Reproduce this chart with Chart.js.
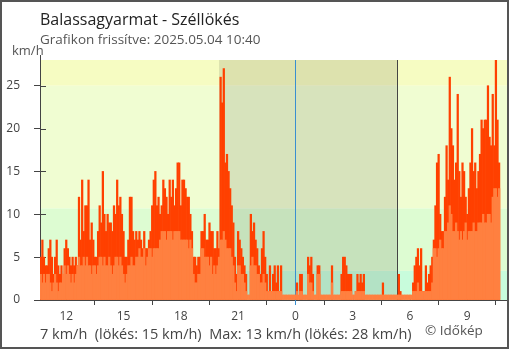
<!DOCTYPE html>
<html lang="hu">
<head>
<meta charset="UTF-8">
<title>Balassagyarmat - Széllökés</title>
<script src="https://cdn.jsdelivr.net/npm/chart.js"></script>
<style>
  body { margin: 0; background: #fff; font-family: 'Open Sans', sans-serif; }
  .wrap { position: relative; width: 510px; height: 350px; overflow: hidden; }
  .wrap canvas { position: absolute; left: 0; top: 0; }
  .frame { position: absolute; left: 0; top: 0; width: 505px; height: 345px; border: 2px solid #555; pointer-events: none; }
  .txt { position: absolute; line-height: 1; white-space: pre; }
  .title { left: 40px; top: 11px; font-size: 16px; color: #222; }
  .sub { left: 40px; top: 32.5px; font-size: 13.5px; color: #555; }
  .unit { left: 12px; top: 43.5px; font-size: 13px; color: #555; }
  .summary { left: 40px; top: 326.5px; font-size: 14.5px; color: #444; }
  .copy { left: 425px; top: 324px; font-size: 13.5px; color: #555; }
</style>
</head>
<body>
<div class="wrap">
  <canvas id="chart" width="510" height="350"></canvas>
  <div class="txt title">Balassagyarmat - Széllökés</div>
  <div class="txt sub">Grafikon frissítve: 2025.05.04 10:40</div>
  <div class="txt unit">km/h</div>
  <div class="txt summary">7 km/h  (lökés: 15 km/h)  Max: 13 km/h (lökés: 28 km/h)</div>
  <div class="txt copy">© Időkép</div>
  <div class="frame"></div>
</div>
<script>
// 5 perces mérések 10:40-től másnap 10:40-ig (órák éjfélhez képest)
const startHour = -(13 + 20 / 60);
const stepHour = 5 / 60;

// széllökés (km/h), soronként egy óra
const gust = [
  5, 7, 5, 4,
  4, 6, 7, 5, 3, 5, 7, 4, 3, 4, 3, 6,
  7, 6, 5, 4, 5, 4, 5, 4, 12, 7, 14, 8,
  11, 11, 14, 7, 9, 7, 5, 5, 8, 11, 9, 15,
  10, 8, 10, 9, 9, 8, 11, 10, 14, 11, 12, 10,
  8, 5, 5, 7, 12, 12, 8, 7, 8, 7, 8, 7,
  6, 8, 6, 6, 7, 8, 11, 14, 15, 11, 12, 10,
  11, 14, 13, 12, 10, 14, 12, 14, 11, 13, 16, 16,
  11, 14, 14, 13, 12, 12, 10, 8, 5, 5, 4, 5,
  5, 8, 8, 10, 7, 7, 9, 8, 8, 6, 6, 8,
  6, 26, 23, 27, 16, 17, 15, 13, 11, 9, 5, 3,
  8, 7, 6, 5, 4, 3, 0, 0, 10, 8, 9, 7,
  6, 4, 3, 6, 8, 5, 3, 1, 4, 1, 3, 4,
  2, 4, 1, 4, 0, 0, 0, 0, 0, 0, 0, 0,
  0, 2, 0, 3, 3, 0, 0, 0, 5, 4, 5, 3,
  0, 0, 4, 4, 0, 0, 0, 0, 0, 0, 0, 4,
  0, 0, 0, 0, 0, 3, 5, 5, 4, 3, 3, 3,
  0, 0, 1, 3, 2, 3, 2, 3, 0, 0, 0, 0,
  0, 0, 0, 0, 0, 0, 0, 2, 0, 0, 0, 0,
  0, 0, 0, 0, 0, 3, 1, 0, 0, 0, 0, 0,
  0, 0, 2, 4, 5, 6, 4, 6, 1, 1, 4, 2,
  3, 4, 5, 7, 11, 16, 17, 10, 8, 8, 12, 18,
  14, 26, 20, 18, 14, 16, 24, 15, 12, 16, 15, 12,
  10, 13, 16, 20, 15, 16, 13, 15, 17, 21, 20, 21,
  21, 25, 19, 18, 24, 18, 28, 21, 16
];

// átlagszél (km/h)
const wind = [
  3, 2, 3, 2,
  3, 3, 2, 1, 2, 3, 2, 1, 2, 2, 3, 4,
  3, 4, 3, 2, 3, 2, 3, 4, 5, 4, 4, 5,
  4, 5, 4, 4, 3, 4, 4, 3, 4, 5, 5, 4,
  5, 4, 4, 5, 4, 3, 4, 5, 5, 4, 5, 4,
  3, 2, 3, 4, 4, 5, 4, 4, 5, 5, 6, 5,
  5, 6, 4, 5, 6, 6, 5, 6, 6, 6, 6, 7,
  8, 8, 8, 7, 8, 8, 8, 7, 8, 8, 8, 8,
  7, 7, 7, 7, 7, 6, 7, 6, 3, 2, 2, 3,
  3, 6, 6, 5, 5, 5, 4, 5, 3, 4, 3, 4,
  5, 7, 7, 8, 7, 6, 6, 6, 5, 4, 2, 1,
  4, 4, 3, 3, 2, 1, 0, 0, 4, 5, 4, 4,
  3, 3, 2, 2, 3, 2, 1, 1, 1, 1, 1, 1,
  1, 1, 1, 1, 0, 0, 0, 0, 0, 0, 0, 0,
  0, 1, 0, 1, 1, 0, 0, 0, 3, 2, 2, 1,
  0, 0, 3, 3, 0, 0, 0, 0, 0, 0, 0, 2,
  0, 0, 0, 0, 0, 1, 1, 1, 1, 1, 1, 1,
  0, 0, 1, 1, 1, 1, 1, 1, 0, 0, 0, 0,
  0, 0, 0, 0, 0, 0, 0, 0, 0, 0, 0, 0,
  0, 0, 0, 0, 0, 0, 0, 0, 0, 0, 0, 0,
  0, 0, 1, 1, 1, 2, 1, 1, 1, 1, 1, 1,
  1, 1, 2, 6, 6, 5, 6, 7, 6, 6, 8, 8,
  9, 11, 10, 8, 8, 9, 8, 7, 8, 7, 8, 9,
  7, 8, 8, 8, 9, 8, 8, 9, 9, 9, 10, 9,
  9, 10, 10, 9, 12, 13, 13, 12, 13
];

const xTickHours = [-12, -9, -6, -3, 0, 3, 6, 9];
const xTickLabels = ['12', '15', '18', '21', '0', '3', '6', '9'];
const yTicks = [0, 5, 10, 15, 20, 25];

// háttérsávok (km/h határok) és színeik
const bandLimits = [0, 3.4, 10.7, 25, 28];
const bandColors = ['#c8fcdc', '#ddfcd2', '#f0fdd2', '#f6fcc2'];

// éjszaka: 20:00 - napkelte 5:19
const nightFrom = -4;
const nightTo = 5 + 19 / 60;

const xMin = startHour - stepHour / 2;
const xMax = 11.08;

const toPoints = arr => arr.map((v, i) => ({ x: startHour + i * stepHour, y: v }));

const backdrop = {
  id: 'backdrop',
  beforeDraw(chart) {
    const { ctx, chartArea: a, scales: { x, y } } = chart;
    ctx.save();
    for (let k = 0; k < bandColors.length; k++) {
      const top = y.getPixelForValue(bandLimits[k + 1]);
      const bottom = y.getPixelForValue(bandLimits[k]);
      ctx.fillStyle = bandColors[k];
      ctx.fillRect(a.left, top, a.right - a.left, bottom - top);
    }
    const n0 = x.getPixelForValue(nightFrom);
    const n1 = x.getPixelForValue(nightTo);
    ctx.fillStyle = 'rgba(0,0,0,0.1)';
    ctx.fillRect(n0, a.top, n1 - n0, a.bottom - a.top);
    ctx.restore();
  },
  beforeDatasetsDraw(chart) {
    const { ctx, chartArea: a, scales: { x, y } } = chart;
    ctx.save();
    ctx.lineWidth = 1;
    ctx.strokeStyle = '#444';
    ctx.beginPath();
    ctx.moveTo(a.left + 0.5, a.top - 5);
    ctx.lineTo(a.left + 0.5, a.top);
    yTicks.forEach(v => {
      const py = Math.round(y.getPixelForValue(v)) + 0.5;
      ctx.moveTo(a.left, py);
      ctx.lineTo(a.left + 6, py);
    });
    xTickHours.forEach(h => {
      const px = Math.round(x.getPixelForValue(h)) + 0.5;
      ctx.moveTo(px, a.bottom - 5);
      ctx.lineTo(px, a.bottom);
    });
    const sr = Math.round(x.getPixelForValue(nightTo)) + 0.5;
    ctx.moveTo(sr, a.top);
    ctx.lineTo(sr, a.bottom);
    ctx.stroke();

    // éjfél
    const mx = Math.round(x.getPixelForValue(0)) + 0.5;
    ctx.strokeStyle = '#3a8fd0';
    ctx.beginPath();
    ctx.moveTo(mx, a.top);
    ctx.lineTo(mx, a.bottom + 5);
    ctx.stroke();
    ctx.restore();
  }
};

Chart.defaults.font.family = "'Open Sans', sans-serif";

new Chart(document.getElementById('chart'), {
  type: 'bar',
  data: {
    datasets: [
      {
        label: 'Szél',
        data: toPoints(wind),
        backgroundColor: '#ff8040',
        minBarLength: 5,
        order: 0
      },
      {
        label: 'Széllökés',
        data: toPoints(gust),
        backgroundColor: '#ff4000',
        order: 1
      }
    ]
  },
  options: {
    responsive: false,
    animation: false,
    events: [],
    layout: { padding: { top: 60, right: 3, left: 0, bottom: 0 } },
    datasets: {
      bar: {
        grouped: false,
        barPercentage: 1,
        categoryPercentage: 1,
        borderWidth: 0,
        clip: 0
      }
    },
    plugins: {
      legend: { display: false },
      tooltip: { enabled: false }
    },
    scales: {
      x: {
        type: 'linear',
        min: xMin,
        max: xMax,
        offset: false,
        afterBuildTicks: s => { s.ticks = xTickHours.map(v => ({ value: v })); },
        afterFit: s => { s.height = 50; },
        grid: { drawOnChartArea: false, tickLength: 5, color: '#444' },
        border: { color: '#444', width: 1 },
        ticks: {
          callback: (v, i) => xTickLabels[i],
          color: '#444',
          font: { size: 12 },
          padding: 4,
          maxRotation: 0,
          autoSkip: false
        }
      },
      y: {
        min: 0,
        max: 28,
        afterBuildTicks: s => { s.ticks = yTicks.map(v => ({ value: v })); },
        afterFit: s => { s.width = 40; },
        grid: { drawOnChartArea: false, tickLength: 6, color: '#444' },
        border: { color: '#444', width: 1 },
        ticks: { color: '#444', font: { size: 12 }, padding: 14 }
      }
    }
  },
  plugins: [backdrop]
});
</script>
</body>
</html>
